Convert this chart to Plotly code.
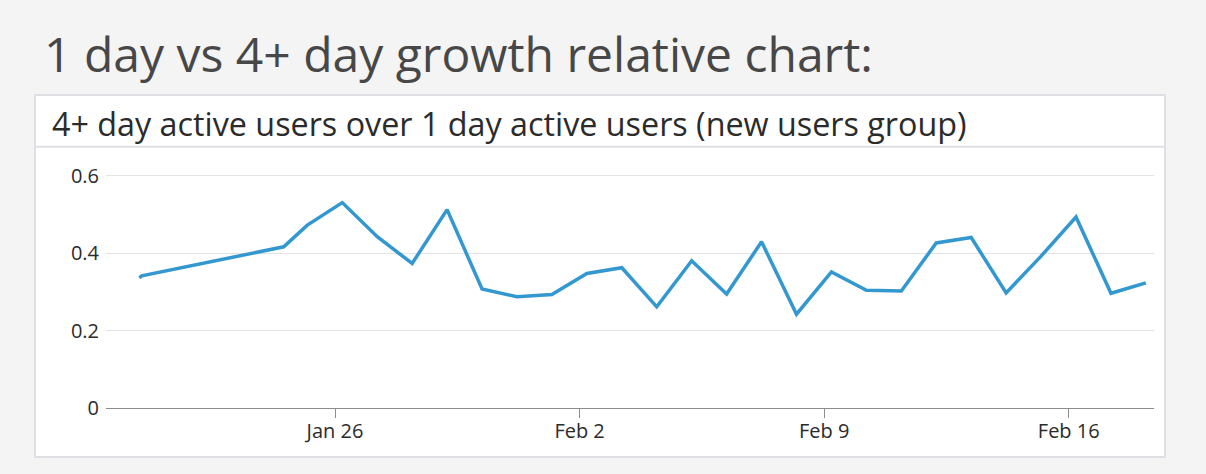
import plotly.graph_objects as go

W, H = 1206, 474

# ---- data ----
dates = [
    "2020-01-20 09:36", "2020-01-20 11:15", "2020-01-24 12:45", "2020-01-25 05:00",
    "2020-01-26 05:00", "2020-01-27 05:00", "2020-01-28 05:00", "2020-01-29 05:00",
    "2020-01-30 05:00", "2020-01-31 05:00", "2020-02-01 05:00", "2020-02-02 05:00",
    "2020-02-03 05:00", "2020-02-04 05:00", "2020-02-05 05:00", "2020-02-06 05:00",
    "2020-02-07 05:00", "2020-02-08 05:00", "2020-02-09 05:00", "2020-02-10 05:00",
    "2020-02-11 05:00", "2020-02-12 05:00", "2020-02-13 05:00", "2020-02-14 05:00",
    "2020-02-15 05:00", "2020-02-16 05:00", "2020-02-17 05:00", "2020-02-18 05:00",
]
ratio = [
    0.336, 0.341, 0.416, 0.472,
    0.530, 0.442, 0.373, 0.512,
    0.307, 0.287, 0.293, 0.347,
    0.362, 0.261, 0.380, 0.294,
    0.429, 0.242, 0.351, 0.304,
    0.302, 0.426, 0.440, 0.297,
    0.392, 0.493, 0.296, 0.323,
]
x_tick_vals = ["2020-01-26", "2020-02-02", "2020-02-09", "2020-02-16"]
x_tick_text = ["Jan 26", "Feb 2", "Feb 9", "Feb 16"]
y_tick_vals = [0, 0.2, 0.4, 0.6]
y_tick_text = ["0", "0.2", "0.4", "0.6"]

main_title = "1 day vs 4+ day growth relative chart:"
panel_title = "4+ day active users over 1 day active users (new users group)"

def px(x):
    return x / W

def py(y):
    return 1 - y / H

FONT = "Open Sans"

fig = go.Figure()
fig.add_trace(go.Scatter(
    x=dates, y=ratio, mode="lines",
    line=dict(color="#3398cf", width=3.5),
    hoverinfo="skip", showlegend=False,
))

fig.update_layout(
    width=W, height=H,
    margin=dict(l=0, r=0, t=0, b=0),
    paper_bgcolor="#f4f4f4",
    plot_bgcolor="rgba(0,0,0,0)",
    font=dict(family=FONT, color="#2b2b2b"),
    xaxis=dict(
        domain=[px(106), px(1154)],
        type="date",
        range=["2020-01-19 10:42", "2020-02-18 10:34"],
        tickvals=x_tick_vals, ticktext=x_tick_text,
        showgrid=False, zeroline=False,
        showline=True, linecolor="#8c8c8c", linewidth=1,
        ticks="outside", ticklen=9, tickcolor="#8c8c8c", tickwidth=1,
        ticklabelstandoff=-4,
        tickfont=dict(family=FONT, size=20, color="#2b2b2b"),
        automargin=False, fixedrange=True,
    ),
    yaxis=dict(
        domain=[py(408), py(150)],
        range=[0, 0.6658],
        tickvals=y_tick_vals, ticktext=y_tick_text,
        showgrid=True, gridcolor="#e3e3e3", gridwidth=1,
        zeroline=False, showline=False, ticks="",
        ticklabelstandoff=6,
        tickfont=dict(family=FONT, size=20, color="#2b2b2b"),
        automargin=False, fixedrange=True,
    ),
    shapes=[
        dict(type="rect", xref="paper", yref="paper", layer="below",
             x0=px(35), x1=px(1165), y0=py(457), y1=py(95),
             fillcolor="white", line=dict(color="#dfdfe4", width=2)),
        dict(type="line", xref="paper", yref="paper", layer="below",
             x0=px(35), x1=px(1165), y0=py(146.7), y1=py(146.7),
             line=dict(color="#dfdfe4", width=2)),
    ],
    annotations=[
        dict(text=main_title, xref="paper", yref="paper", x=px(42), y=py(54),
             xanchor="left", yanchor="middle", showarrow=False,
             font=dict(family=FONT, size=48, color="#474747")),
        dict(text=panel_title, xref="paper", yref="paper", x=px(50), y=py(123),
             xanchor="left", yanchor="middle", showarrow=False,
             font=dict(family=FONT, size=32.3, color="#2b2b2b")),
    ],
)

fig.write_html(
    "out.html",
    config={"displayModeBar": False},
    post_script="document.body.style.margin='0';document.body.style.background='#f4f4f4';",
)
